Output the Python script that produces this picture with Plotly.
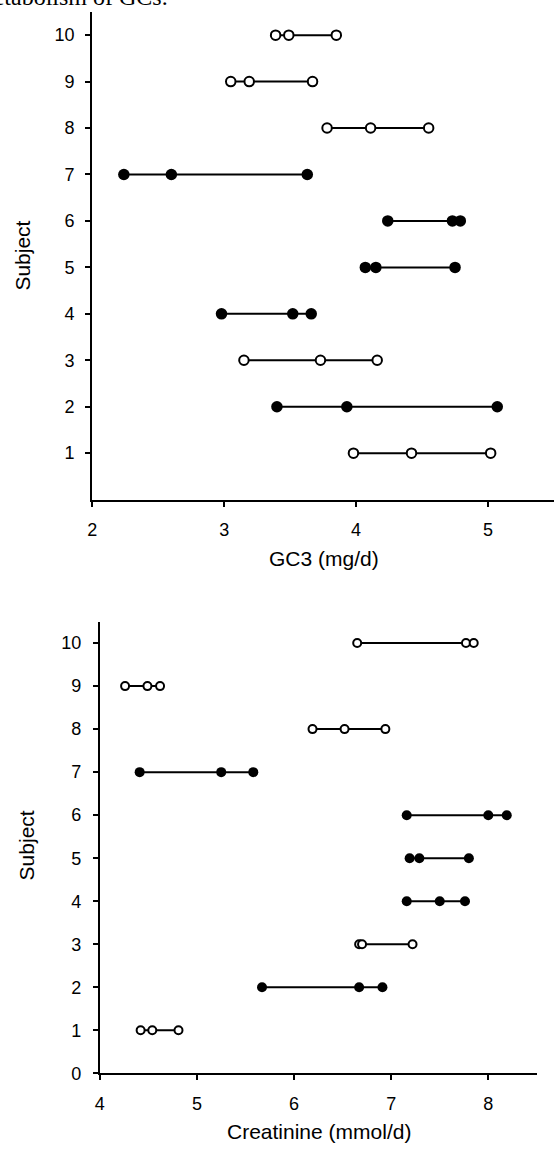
import plotly.graph_objects as go

subjects = [1, 2, 3, 4, 5, 6, 7, 8, 9, 10]
filled = [False, True, False, True, True, True, True, False, False, False]

gc3_values = [
    [3.98, 4.42, 5.02],
    [3.40, 3.93, 5.07],
    [3.15, 3.73, 4.16],
    [2.98, 3.52, 3.66],
    [4.07, 4.15, 4.75],
    [4.24, 4.73, 4.79],
    [2.24, 2.60, 3.63],
    [3.78, 4.11, 4.55],
    [3.05, 3.19, 3.67],
    [3.39, 3.49, 3.85],
]

creat_values = [
    [4.42, 4.54, 4.81],
    [5.67, 6.67, 6.91],
    [6.67, 6.70, 7.22],
    [7.16, 7.50, 7.76],
    [7.19, 7.29, 7.80],
    [7.16, 8.00, 8.19],
    [4.41, 5.25, 5.58],
    [6.19, 6.52, 6.94],
    [4.26, 4.49, 4.62],
    [6.65, 7.77, 7.85],
]

gc3_ticks = [2, 3, 4, 5]
creat_ticks = [4, 5, 6, 7, 8]
top_y_ticks = [1, 2, 3, 4, 5, 6, 7, 8, 9, 10]
bottom_y_ticks = [0, 1, 2, 3, 4, 5, 6, 7, 8, 9, 10]

W, H = 554, 1153
fig = go.Figure()

def add_rows(values, xa, ya, fsize, osize):
    for s, vals, f in zip(subjects, values, filled):
        v = sorted(vals)
        if f:
            marker = dict(symbol="circle", size=fsize, color="black",
                          line=dict(color="black", width=0))
        else:
            marker = dict(symbol="circle", size=osize, color="white",
                          line=dict(color="black", width=2))
        fig.add_trace(go.Scatter(
            x=v, y=[s] * len(v), mode="lines+markers",
            line=dict(color="black", width=2),
            marker=marker, xaxis=xa, yaxis=ya, showlegend=False,
            hoverinfo="x+y"))

add_rows(gc3_values, "x", "y", 11.5, 9.5)
add_rows(creat_values, "x2", "y2", 10, 8)

tick_font = dict(family="Liberation Sans, Arial", size=18, color="black")
axis_common = dict(showline=True, linecolor="black", linewidth=2,
                   ticks="outside", ticklen=5, tickwidth=2, tickcolor="black",
                   showgrid=False, zeroline=False, tickfont=tick_font)

def px_x(p):
    return p / W

def px_y(p):
    return (H - p) / H

fig.update_layout(
    width=W, height=H,
    margin=dict(l=0, r=0, t=0, b=0),
    paper_bgcolor="white", plot_bgcolor="white",
    xaxis=dict(domain=[px_x(88), px_x(554)], range=[2, 5.5],
               tickvals=gc3_ticks, anchor="y", ticklabelstandoff=8, **axis_common),
    yaxis=dict(domain=[px_y(504), px_y(12)], range=[0, 10.5],
               tickvals=top_y_ticks, anchor="x", ticklabelstandoff=7, **axis_common),
    xaxis2=dict(domain=[px_x(95.7), px_x(536.7)], range=[4, 8.5],
                tickvals=creat_ticks, anchor="y2", ticklabelstandoff=8, **axis_common),
    yaxis2=dict(domain=[px_y(1082.7), px_y(627)], range=[0, 10.5],
                tickvals=bottom_y_ticks, anchor="x2", ticklabelstandoff=8, **axis_common),
)

title_font = dict(family="Liberation Sans, Arial", size=21, color="black")
annotations = [
    dict(text="GC3 (mg/d)", x=px_x(322), y=px_y(563), xref="paper", yref="paper",
         showarrow=False, font=title_font, xanchor="center", yanchor="middle"),
    dict(text="Subject", x=px_x(18), y=px_y(258), xref="paper", yref="paper",
         showarrow=False, font=title_font, textangle=-90,
         xanchor="center", yanchor="middle"),
    dict(text="Creatinine (mmol/d)", x=px_x(317), y=px_y(1141), xref="paper", yref="paper",
         showarrow=False, font=title_font, xanchor="center", yanchor="middle"),
    dict(text="Subject", x=px_x(22), y=px_y(853), xref="paper", yref="paper",
         showarrow=False, font=title_font, textangle=-90,
         xanchor="center", yanchor="middle"),
    dict(text="metabolism of GCs.", x=px_x(167), y=px_y(12), xref="paper", yref="paper",
         showarrow=False, font=dict(family="Liberation Serif, Times New Roman", size=24, color="black"),
         xanchor="right", yanchor="bottom"),
]
fig.update_layout(annotations=annotations)

fig.write_html("out.html")
